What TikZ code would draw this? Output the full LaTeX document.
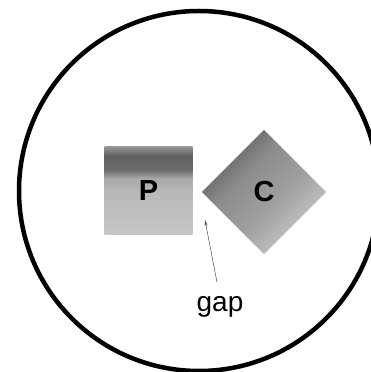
\documentclass[tikz,border=0pt]{standalone}
\usepackage{fontspec}
\setmainfont{Liberation Sans}
\usetikzlibrary{arrows.meta}

\pgfdeclareverticalshading{grainband}{100bp}{color(0bp)=(black!22); color(25bp)=(black!22);
  color(50bp)=(black!28); color(57bp)=(black!33); color(62bp)=(black!58);
  color(70bp)=(black!62); color(75bp)=(black!42); color(100bp)=(black!42)}
\pgfdeclareverticalshading{grainfade}{100bp}{color(0bp)=(black!25); color(30bp)=(black!25);
  color(45bp)=(black!38); color(60bp)=(black!45); color(68bp)=(black!55); color(100bp)=(black!55)}

\tikzset{
  blockbox/.style={rectangle, minimum size=88, inner sep=0, shading=grainband},
  lettertext/.style={font=\bfseries\fontsize{29}{29}\selectfont},
  gaparrow/.style={draw=black!70, line width=0.5pt, -{Stealth[length=6pt,width=3pt]}}
}

\begin{document}
\begin{tikzpicture}[x=1pt,y=1pt]
\useasboundingbox (0,0) rectangle (370,372);
\draw [line width=4.5pt] (199,181) circle (180);
% the two blocks
\node[blockbox] (Psq) at (148.5,181) {};
\node[lettertext] (P) at (Psq.center) {P};
\node[blockbox, rotate=45, shading=grainfade, shading angle=45] (Csq) at (264,180) {};
\node[lettertext] (C) at (Csq.center) {C};
% label
\node[font=\fontsize{28}{28}\selectfont, anchor=base] (gap) at (220,60) {gap};
\coordinate (gaptip) at (205,152);
\draw [gaparrow] ([shift={(-3,11)}]gap.north) -- (gaptip);
\end{tikzpicture}
\end{document}
